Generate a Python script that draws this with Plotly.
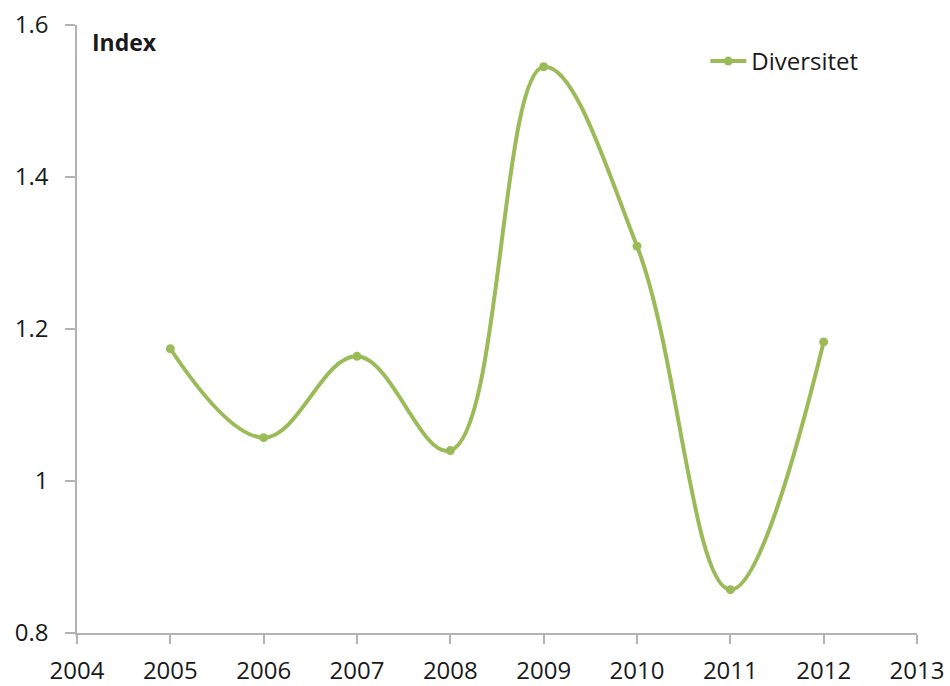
import plotly.graph_objects as go

years = [2005, 2006, 2007, 2008, 2009, 2010, 2011, 2012]
diversitet = [1.174, 1.057, 1.164, 1.040, 1.545, 1.309, 0.857, 1.183]

x_ticks = list(range(2004, 2014))
y_ticks = [0.8, 1.0, 1.2, 1.4, 1.6]
y_tick_labels = ["0.8", "1", "1.2", "1.4", "1.6"]

green = "#9BBB59"
axis_grey = "#B3B3B3"
font_family = "Open Sans, Liberation Sans, sans-serif"

fig = go.Figure()
fig.add_trace(go.Scatter(
    x=years, y=diversitet, name="Diversitet",
    mode="lines+markers",
    line=dict(color=green, width=4, shape="spline", smoothing=1.1),
    marker=dict(color=green, size=9),
))

fig.update_layout(
    width=950, height=686,
    margin=dict(l=77, r=33, t=25, b=53),
    paper_bgcolor="white", plot_bgcolor="white",
    font=dict(family=font_family, size=24, color="#1a1a1a"),
    showlegend=True,
    legend=dict(x=0.748, y=0.94, xanchor="left", yanchor="middle",
                bgcolor="rgba(0,0,0,0)", font=dict(size=24),
                itemwidth=36),
    xaxis=dict(range=[2004, 2013], tickvals=x_ticks, showgrid=False,
               automargin=False, ticklabelstandoff=6,
               zeroline=False, showline=True, linecolor=axis_grey, linewidth=1.5,
               ticks="outside", ticklen=9, tickcolor=axis_grey, tickwidth=1.5),
    yaxis=dict(range=[0.8, 1.6], tickvals=y_ticks, ticktext=y_tick_labels,
               automargin=False, ticklabelstandoff=12,
               showgrid=False, zeroline=False, showline=True,
               linecolor=axis_grey, linewidth=1.5,
               ticks="outside", ticklen=10, tickcolor=axis_grey, tickwidth=1.5),
    annotations=[dict(text="<b>Index</b>", x=0.015, y=0.972, xref="paper",
                      yref="paper", xanchor="left", yanchor="middle",
                      showarrow=False, font=dict(size=23, color="#1a1a1a"))],
)

fig.write_html("out.html")
